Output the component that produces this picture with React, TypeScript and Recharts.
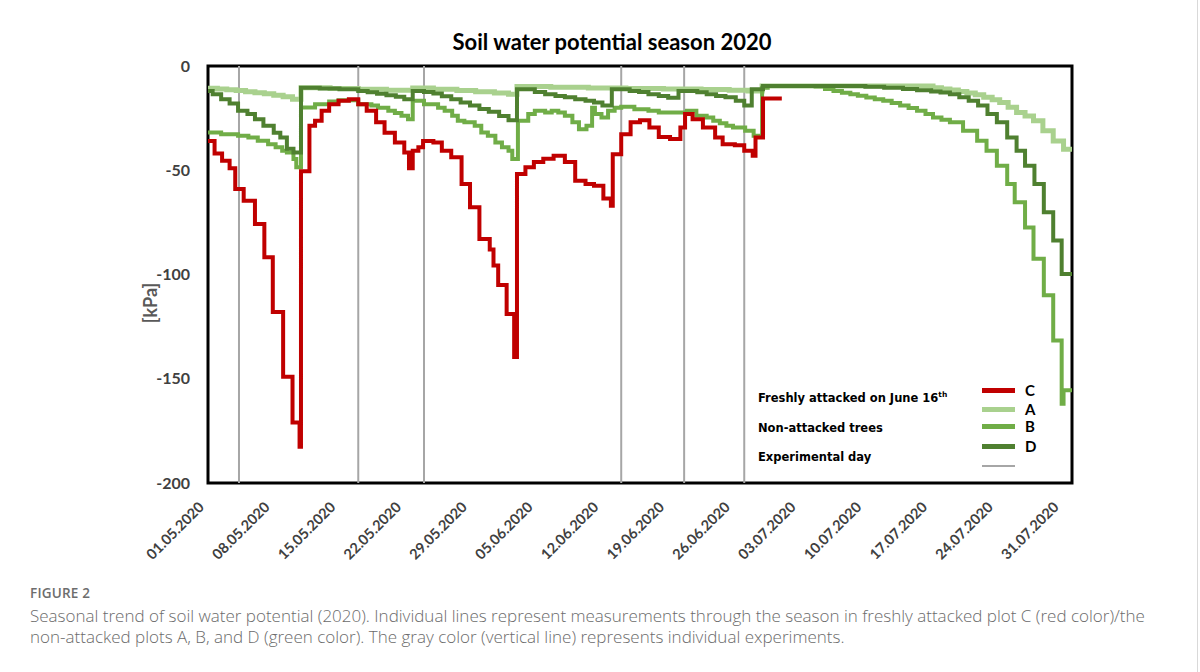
import React from "react";
import { LineChart, Line, XAxis, YAxis, ReferenceLine, ReferenceArea } from "recharts";

// day index counted from 01.05.2020, value in kPa; each pair starts a new step
const plotC: [number, number][] = [
  [0, -36], [0.7, -42], [1.5, -45.5], [2.3, -49], [2.9, -59], [3.8, -64.6], [5, -75.8], [6, -91.7],
  [6.9, -118], [8, -149], [9, -171], [9.75, -182.6], [9.9, -50.5], [10.8, -28.7], [11.4, -26.3],
  [12.1, -21.5], [12.9, -18.3], [13.9, -16.7], [15, -16], [16, -18.3], [16.9, -21.5], [17.9, -27],
  [18.8, -32], [19.9, -36.7], [20.9, -41.5], [21.4, -49], [21.8, -40.7], [22.4, -39], [22.9, -36],
  [24, -36.7], [24.9, -40.7], [25.9, -43.8], [27, -56.6], [27.9, -67.8], [28.9, -83], [30, -88],
  [30.4, -95.7], [30.9, -105], [31.8, -119], [32.6, -139.6], [32.9, -51.8], [33.8, -48.6], [34.7, -46],
  [35.7, -44.5], [36.8, -43], [38, -46], [39.1, -55], [40.2, -56.6], [41.1, -57.4], [42.1, -63.6],
  [42.9, -67], [43.1, -42.3], [44, -32.7], [45, -27], [46, -26], [47, -29.5], [48, -34], [49.2, -35],
  [50.3, -29.5], [50.8, -23], [51.6, -25.5], [52.7, -29.5], [54, -34.3], [54.8, -37.5], [56.1, -38],
  [57.1, -40.7], [58, -43], [58.3, -34.3], [59.1, -15.6], [61.1, -15.6],
];

const plotA: [number, number][] = [
  [0, -10.7], [1, -11], [2, -11.4], [3, -11.8], [4, -12.3], [5, -12.8], [6, -13.3], [7, -14], [8, -14.8],
  [9, -15.9], [9.9, -10.4], [13, -10.8], [16, -11.2], [19, -11.6], [21.8, -10.6], [24, -11.2],
  [26.5, -11.8], [28.5, -12.4], [30.5, -13], [32, -13.6], [32.9, -9.8], [36.5, -10.2], [40.5, -10.6],
  [44.5, -10.8], [48.5, -11], [52.5, -11.3], [55.5, -11.6], [57.5, -12], [59, -9.6], [77.2, -10.4],
  [78.1, -11], [79, -11.5], [79.9, -12.2], [80.8, -12.9], [81.7, -13.8], [82.6, -15], [83.5, -16.2],
  [84.3, -17.5], [85.2, -19.8], [86.1, -22.3], [87, -24], [87.9, -26.3], [88.9, -31], [90, -36],
  [91.1, -39.9], [92, -39.9],
];

const plotB: [number, number][] = [
  [0, -31.9], [1.4, -32.7], [3.2, -33.5], [4.3, -34.3], [5.3, -35.9], [6.4, -37.5], [7.2, -39],
  [7.9, -40.7], [8.4, -41.5], [9.1, -44.6], [9.4, -48.6], [9.9, -19.9], [11.4, -18.3], [12.9, -17],
  [13.9, -16.4], [16, -18.3], [17.4, -19], [18.1, -20], [19.2, -21.5], [19.9, -22.5], [20.6, -23.9],
  [21.3, -25.5], [21.8, -16.7], [23, -18.3], [24.5, -20], [25.2, -21.5], [26, -23.9], [26.6, -26.3],
  [27.3, -27], [28.4, -28.7], [29.1, -31.9], [29.8, -33.5], [30.6, -36.7], [31.3, -39], [32, -40.7],
  [32.4, -44.6], [33, -26.3], [34.1, -23], [34.8, -21.5], [35.9, -22.3], [36.6, -21.5], [37.3, -22.3],
  [38, -23.9], [38.8, -27], [39.5, -30.3], [40.3, -28.7], [40.9, -20], [41.2, -23], [41.9, -24.7],
  [42.6, -21.5], [43.3, -20], [44, -19.5], [45.4, -20.7], [46.9, -21.5], [48, -22.3], [49.8, -22.3],
  [51, -21.5], [52, -23.9], [53.1, -24.7], [53.8, -26.3], [54.5, -27.5], [55.2, -28.7], [55.9, -29.5],
  [57.2, -31], [58.1, -33.5], [59, -10.4], [59.6, -9.6], [64.7, -9.8], [65.7, -11], [66.6, -12],
  [67.5, -12.8], [68.4, -13.6], [69.2, -14.3], [70.1, -15.1], [71, -15.9], [71.9, -16.7], [72.8, -17.8],
  [73.7, -19], [74.6, -20.2], [75.5, -21.5], [76.4, -23], [77.2, -24.7], [78.1, -25.8], [79, -27],
  [80.4, -31], [81.9, -35.9], [82.9, -40.7], [84, -47.8], [85.1, -56.6], [85.9, -65.4], [87, -77.4],
  [87.9, -92.5], [89, -110], [90, -131.6], [90.9, -162], [91.1, -155.5], [92, -155.5],
];

const plotD: [number, number][] = [
  [0, -12], [0.5, -13.5], [1.4, -16], [2.3, -18], [3.2, -21.5], [4.2, -23], [5, -25.5], [5.9, -28.7],
  [7, -32], [7.7, -34.3], [8.4, -39.7], [9.1, -41.5], [9.9, -10.4], [11.9, -10.8], [14, -11.2], [16, -12],
  [17, -12.6], [18, -13.3], [19, -14], [20, -14.8], [20.9, -16], [21.8, -12], [23, -12.5], [24, -13.2],
  [24.9, -14.5], [25.9, -16], [26.9, -17.5], [27.9, -19], [28.9, -20.6], [29.9, -22], [31, -24],
  [32, -26], [32.9, -11.2], [34.8, -12.5], [35.9, -13.5], [37, -14.4], [38, -15], [39.1, -16],
  [40.2, -16.7], [41.1, -17.5], [42, -19], [43, -11.2], [44.9, -12], [45.9, -12.5], [46.9, -13.6],
  [48, -14.4], [49, -15.2], [50.1, -12], [52.1, -12.6], [53.1, -13.6], [54.1, -14.4], [55.1, -15],
  [56.2, -16.7], [57.1, -19], [57.9, -11.2], [59.1, -9.6], [70, -10], [72, -10.4], [74, -11],
  [75.5, -11.6], [77, -12.2], [78, -12.7], [79, -13.6], [80, -15], [81, -16.7], [82, -19], [83, -23],
  [84, -27], [85.1, -34.3], [86.1, -40.7], [87, -47.8], [88, -56.6], [89, -70.2], [90, -83.7],
  [90.9, -99.7], [92, -99.7],
];

const experimentDays = [3.3, 16, 23, 44, 50.7, 57.1];

const tickDays = [0, 7, 14, 21, 28, 35, 42, 49, 56, 63, 70, 77, 84, 91];
const tickLabels = [
  "01.05.2020", "08.05.2020", "15.05.2020", "22.05.2020", "29.05.2020", "05.06.2020", "12.06.2020",
  "19.06.2020", "26.06.2020", "03.07.2020", "10.07.2020", "17.07.2020", "24.07.2020", "31.07.2020",
];
const kpaTicks = [-200, -150, -100, -50, 0];

const series = [
  { key: "A", points: plotA, color: "#a9d18e", width: 5 },
  { key: "B", points: plotB, color: "#70ad47", width: 4 },
  { key: "D", points: plotD, color: "#4f8030", width: 4 },
  { key: "C", points: plotC, color: "#c00000", width: 4 },
];

const legendItems = [
  { key: "C", color: "#c00000", y: 390, h: 5 },
  { key: "A", color: "#a9d18e", y: 409, h: 5 },
  { key: "B", color: "#70ad47", y: 426, h: 5 },
  { key: "D", color: "#4f8030", y: 446, h: 5 },
  { key: "", color: "#a6a6a6", y: 466, h: 2 },
];

const toRows = (pts: [number, number][]) => pts.map(([day, kPa]) => ({ day, kPa }));

function DateTick(props: any) {
  const { x, y, payload } = props;
  const label = tickLabels[tickDays.indexOf(payload.value)];
  const ax = x - 3;
  const ay = y + 17;
  return (
    <text
      x={ax}
      y={ay}
      textAnchor="end"
      transform={`rotate(-45 ${ax} ${ay})`}
      fontFamily="Lato"
      fontWeight={700}
      fontSize={14.5}
      fill="#404040"
    >
      {label}
    </text>
  );
}

const legendText: React.CSSProperties = {
  position: "absolute",
  left: 758,
  fontFamily: "DejaVu Sans",
  fontWeight: 700,
  fontSize: 11.5,
  lineHeight: "14px",
  color: "#000",
  whiteSpace: "nowrap",
};

export default function App() {
  return (
    <div style={{ position: "absolute", left: 0, top: 0, width: 1200, height: 672, background: "#fff" }}>
      <div
        style={{
          position: "absolute",
          left: 412,
          top: 28,
          width: 400,
          textAlign: "center",
          fontFamily: "Lato",
          fontWeight: 700,
          fontSize: 22,
          color: "#000",
        }}
      >
        Soil water potential season 2020
      </div>
      <div
        style={{
          position: "absolute",
          left: 100,
          top: 291,
          width: 100,
          height: 24,
          lineHeight: "24px",
          textAlign: "center",
          transform: "rotate(-90deg)",
          fontFamily: "Lato",
          fontWeight: 700,
          fontSize: 18,
          color: "#595959",
        }}
      >
        [kPa]
      </div>

      <div style={{ position: "absolute", left: 0, top: 0 }}>
        <LineChart width={1200} height={580} margin={{ top: 66, right: 128, bottom: 0, left: 0 }}>
          <XAxis
            dataKey="day"
            type="number"
            domain={[0, 92]}
            ticks={tickDays}
            tick={<DateTick />}
            tickLine={false}
            axisLine={false}
            height={97}
            allowDataOverflow
            interval={0}
          />
          <YAxis
            type="number"
            domain={[-200, 0]}
            ticks={kpaTicks}
            width={208}
            tickLine={false}
            axisLine={false}
            tickMargin={12}
            allowDataOverflow
            tick={{ fontFamily: "Lato", fontWeight: 700, fontSize: 16, fill: "#404040" }}
          />
          {experimentDays.map((d) => (
            <ReferenceLine key={d} x={d} stroke="#a6a6a6" strokeWidth={2} />
          ))}
          {series.map((s) => (
            <Line
              key={s.key}
              data={toRows(s.points)}
              dataKey="kPa"
              type="stepAfter"
              stroke={s.color}
              strokeWidth={s.width}
              dot={false}
              activeDot={false}
              isAnimationActive={false}
            />
          ))}
          <ReferenceArea x1={0} x2={92} y1={-200} y2={0} fill="none" stroke="#000" strokeWidth={3} ifOverflow="visible" />
        </LineChart>
      </div>

      {/* legend drawn inside the plot box */}
      <div style={{ ...legendText, top: 391 }}>
        Freshly attacked on June 16<sup style={{ fontSize: 7.5, verticalAlign: "top", lineHeight: "8px" }}>th</sup>
      </div>
      <div style={{ ...legendText, top: 421 }}>Non-attacked trees</div>
      <div style={{ ...legendText, top: 450 }}>Experimental day</div>
      {legendItems.map((it) => (
        <React.Fragment key={it.y}>
          <div
            style={{ position: "absolute", left: 982, top: it.y - it.h / 2, width: 33, height: it.h, background: it.color }}
          />
          {it.key && (
            <div
              style={{
                position: "absolute",
                left: 1025,
                top: it.y - 9,
                lineHeight: "18px",
                fontFamily: "Lato",
                fontWeight: 700,
                fontSize: 15,
                color: "#000",
              }}
            >
              {it.key}
            </div>
          )}
        </React.Fragment>
      ))}

      <div style={{ position: "absolute", left: 1197, top: 0, width: 1, height: 672, background: "#d9d9d9" }} />

      <div
        style={{
          position: "absolute",
          left: 30,
          top: 584,
          fontFamily: "Open Sans",
          fontWeight: 600,
          fontSize: 13.5,
          color: "#6d6d6d",
          letterSpacing: 0.2,
        }}
      >
        FIGURE 2
      </div>
      <div
        style={{
          position: "absolute",
          left: 30,
          top: 605,
          width: 1160,
          fontFamily: "Open Sans",
          fontWeight: 300,
          fontSize: 17,
          lineHeight: "21px",
          color: "#6b6b6b",
        }}
      >
        <div style={{ whiteSpace: "nowrap" }}>
          Seasonal trend of soil water potential (2020). Individual lines represent measurements through the season in
          freshly attacked plot C (red color)/the
        </div>
        <div style={{ whiteSpace: "nowrap" }}>
          non-attacked plots A, B, and D (green color). The gray color (vertical line) represents individual
          experiments.
        </div>
      </div>
    </div>
  );
}
